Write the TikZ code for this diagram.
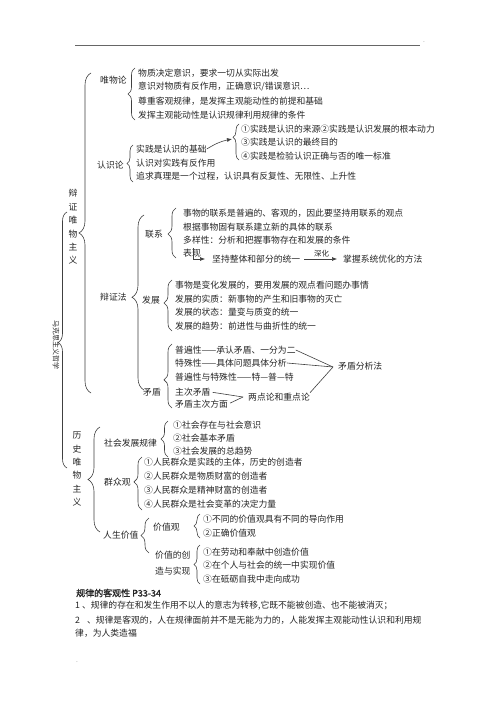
\documentclass[tikz,border=0pt]{standalone}
\usepackage{fontspec}
\setmainfont{Noto Sans CJK SC}
\newfontfamily\cjkbold[FakeBold=1.6]{Noto Sans CJK SC}
\usetikzlibrary{decorations.pathreplacing,arrows.meta}

\begin{document}
\begin{tikzpicture}[x=1pt, y=-1pt,
    every node/.style={inner sep=0pt, text=black!85},
    txt/.style={anchor=west, font=\fontsize{8.8}{10}\selectfont},
    vtxt/.style={align=center, font=\fontsize{8.8}{13.4}\selectfont},
    brc/.style 2 args={decorate, draw=black!75, line width=0.6pt,
        decoration={brace, amplitude=#1, aspect=#2}},
    ln/.style={draw=black!75, line width=0.6pt},
    arr/.style={ln, -{Latex[length=5pt, width=4pt]}}]
    \useasboundingbox[fill=white] (0,0) rectangle (500,708);

    % page rule and dots
    \draw[black!60, line width=0.8pt] (75,45) -- (420,45);
    \node[font=\tiny] (dot1) at (424,42) {.};
    \node[font=\tiny] (dot2) at (77,662) {.};

    % root
    \node[rotate=-90, font=\fontsize{7}{8}\selectfont] (mkszy) at (56,345) {马克思主义哲学};
    \draw[brc={9pt}{0.49}] (67,468) -- (67,212);

    % dialectical materialism
    \node[vtxt] (bzwl) at (73,227) {辩\\证\\唯\\物\\主\\义};
    \draw[brc={12pt}{0.5}] (91,393) -- (91,73);

    % materialism
    \node[txt] (wwl) at (100,80) {唯物论};
    \draw[brc={7pt}{0.5}] (135,120) -- (135,68);
    \node[txt] (w1) at (138,73) {物质决定意识，要求一切从实际出发};
    \node[txt] (w2) at (138,87) {意识对物质有反作用，正确意识/错误意识…};
    \node[txt] (w3) at (138,101) {尊重客观规律，是发挥主观能动性的前提和基础};
    \node[txt] (w4) at (138,115) {发挥主观能动性是认识规律利用规律的条件};

    % epistemology
    \node[txt] (rsl) at (97,165) {认识论};
    \draw[brc={6pt}{0.5}] (133,182) -- (133,145);
    \node[txt] (r1) at (136,149) {实践是认识的基础};
    \node[txt] (r2) at (136,163) {认识对实践有反作用};
    \node[txt] (r3) at (136,176) {追求真理是一个过程，认识具有反复性、无限性、上升性};
    \draw[brc={6pt}{0.63}] (239,160) -- (239,124);
    \coordinate (sjtip) at (232,139);
    \node[txt] (s1) at (241,129) {①实践是认识的来源②实践是认识发展的根本动力};
    \node[txt] (s2) at (241,142) {③实践是认识的最终目的};
    \node[txt] (s3) at (241,156) {④实践是检验认识正确与否的唯一标准};
    \draw[arr] (r1.east) to[bend left=10] (sjtip);

    % dialectics
    \node[txt] (bzf) at (100,297) {辩证法};
    \draw[brc={12pt}{0.53}] (144,390) -- (144,215);

    % connection
    \node[txt] (lx) at (145,234) {联系};
    \draw[brc={8pt}{0.48}] (176,258) -- (176,208);
    \node[txt] (l1) at (183,213) {事物的联系是普遍的、客观的，因此要坚持用联系的观点};
    \node[txt] (l2) at (183,227) {根据事物固有联系建立新的具体的联系};
    \node[txt] (l3) at (183,240) {多样性：分析和把握事物存在和发展的条件};
    \node[txt] (bx) at (183,253) {表现};
    \node[txt] (zt) at (212,259) {坚持整体和部分的统一};
    \node[txt] (yh) at (343,259) {掌握系统优化的方法};
    \coordinate (bxa) at (193,248);
    \draw[arr, shorten >=7pt] (bxa) |- (zt.west);
    \draw[arr, shorten <=4pt, shorten >=6pt] (zt.east) -- node[above=2pt, font=\fontsize{7.5}{8}\selectfont] (sh) {深化} (yh.west);

    % development
    \node[txt] (fz) at (142,300) {发展};
    \draw[brc={8pt}{0.55}] (172,331) -- (172,280);
    \node[txt] (f1) at (175,285) {事物是变化发展的，要用发展的观点看问题办事情};
    \node[txt] (f2) at (175,299) {发展的实质：新事物的产生和旧事物的灭亡};
    \node[txt] (f3) at (175,312) {发展的状态：量变与质变的统一};
    \node[txt] (f4) at (175,326) {发展的趋势：前进性与曲折性的统一};

    % contradiction
    \node[txt] (md) at (143,392) {矛盾};
    \draw[brc={8pt}{0.44}] (172,408) -- (172,344);
    \node[txt] (m1) at (175,350) {普遍性——承认矛盾、一分为二};
    \node[txt] (m2) at (175,363) {特殊性——具体问题具体分析};
    \node[txt] (m3) at (175,377) {普遍性与特殊性——特—普—特};
    \node[txt] (m4) at (175,392) {主次矛盾};
    \node[txt] (m5) at (175,404) {矛盾主次方面};
    \node[txt] (ldl) at (248,397) {两点论和重点论};
    \node[txt] (mdfx) at (338,366) {矛盾分析法};
    \coordinate (v1) at (333,367);
    \coordinate (v2) at (243,397);
    \draw[ln] (m1.east) -- (v1);
    \draw[ln] (m2.east) -- (v1);
    \draw[ln] (ldl.north east) -- (v1);
    \draw[ln, shorten <=2pt] (m4.east) -- (v2);
    \draw[ln, shorten <=2pt] (m5.east) -- (v2);

    % historical materialism
    \node[vtxt] (lswl) at (77,469) {历\\史\\唯\\物\\主\\义};
    \draw[brc={12pt}{0.5}] (100,532) -- (100,427);

    % social development
    \node[txt] (shgl) at (104,443) {社会发展规律};
    \draw[brc={7pt}{0.5}] (168,457) -- (168,421);
    \node[txt] (h1) at (173,425) {①社会存在与社会意识};
    \node[txt] (h2) at (173,438) {②社会基本矛盾};
    \node[txt] (h3) at (173,451) {③社会发展的总趋势};

    % the masses
    \node[txt] (qzg) at (104,482) {群众观};
    \draw[brc={8pt}{0.53}] (142,510) -- (142,457);
    \node[txt] (q1) at (144,462) {①人民群众是实践的主体，历史的创造者};
    \node[txt] (q2) at (144,476) {②人民群众是物质财富的创造者};
    \node[txt] (q3) at (144,490) {③人民群众是精神财富的创造者};
    \node[txt] (q4) at (144,504) {④人民群众是社会变革的决定力量};

    % value of life
    \node[txt] (rsjz) at (103,535) {人生价值};
    \draw[brc={8pt}{0.5}] (149,553) -- (149,518);
    \node[txt] (jzg) at (153,527) {价值观};
    \draw[brc={6pt}{0.5}] (200,538) -- (200,514);
    \node[txt] (g1) at (203,519) {①不同的价值观具有不同的导向作用};
    \node[txt] (g2) at (203,533) {②正确价值观};
    \node[txt, align=left, font=\fontsize{8.8}{16}\selectfont] (jzcz) at (155,563) {价值的创\\造与实现};
    \draw[brc={6pt}{0.5}] (200,584) -- (200,545);
    \node[txt] (c1) at (203,552) {①在劳动和奉献中创造价值};
    \node[txt] (c2) at (203,565) {②在个人与社会的统一中实现价值};
    \node[txt] (c3) at (203,579) {③在砥砺自我中走向成功};

    % notes below
    \node[txt, font=\fontsize{9}{10}\cjkbold] (gl) at (76,593) {规律的客观性 P33-34};
    \node[txt] (n1) at (75,606) {1 、规律的存在和发生作用不以人的意志为转移,它既不能被创造、也不能被消灭；};
    \node[txt] (n2) at (75,620) {2\hspace{7pt}、规律是客观的，人在规律面前并不是无能为力的，人能发挥主观能动性认识和利用规};
    \node[txt] (n3) at (75,633) {律，为人类造福};
\end{tikzpicture}
\end{document}
